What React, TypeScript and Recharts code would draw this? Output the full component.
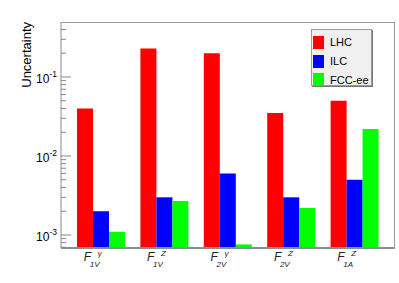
import { BarChart, Bar, XAxis, YAxis } from "recharts";

// categories: F with superscript and subscript
const catSup = ["γ", "Z", "γ", "Z", "Z"];
const catSub = ["1V", "1V", "2V", "2V", "1A"];

const lhc = [0.04, 0.23, 0.2, 0.035, 0.05];
const ilc = [0.002, 0.003, 0.006, 0.003, 0.005];
const fcc = [0.0011, 0.0027, 0.00076, 0.0022, 0.022];

const seriesNames = ["LHC", "ILC", "FCC-ee"];
const seriesColors = ["#ff0000", "#0000ff", "#00ff00"];

const majorTicks = [0.001, 0.01, 0.1];
const majorLabels = ["-3", "-2", "-1"];
const minorTicks = [
    0.0007, 0.0008, 0.0009,
    0.002, 0.003, 0.004, 0.005, 0.006, 0.007, 0.008, 0.009,
    0.02, 0.03, 0.04, 0.05, 0.06, 0.07, 0.08, 0.09,
    0.2, 0.3, 0.4,
];

const data = catSup.map((s, i) => ({
    name: "F" + s + catSub[i],
    LHC: lhc[i],
    ILC: ilc[i],
    FCC: fcc[i],
}));

const FONT = "'Liberation Sans', Arial, sans-serif";

function YTick(props: any) {
    const { x, y, payload } = props;
    const k = majorTicks.indexOf(payload.value);
    if (k < 0) {
        return <line x1={x} x2={x + 5} y1={y} y2={y} stroke="#888" strokeWidth={1} />;
    }
    return (
        <g>
            <line x1={x} x2={x + 10} y1={y} y2={y} stroke="#888" strokeWidth={1} />
            <text x={x - 4} y={y + 6} textAnchor="end" fontFamily={FONT} fontSize={12} fill="#000">
                <tspan>10</tspan>
                <tspan dy={-6} fontSize={8.5}>{majorLabels[k]}</tspan>
            </text>
        </g>
    );
}

function XTick(props: any) {
    const { x, y, payload } = props;
    const i = payload.index;
    const cx = x - 8;
    return (
        <g fontFamily={FONT} fill="#222" fontStyle="italic">
            <text x={cx - 9} y={y + 11} fontSize={12}>F</text>
            <text x={cx + 5} y={y + 6} fontSize={8}>{catSup[i]}</text>
            <text x={cx - 3} y={y + 17} fontSize={8}>{catSub[i]}</text>
        </g>
    );
}

function LegendBox() {
    return (
        <div
            style={{
                position: "absolute",
                left: 311,
                top: 29,
                width: 61,
                height: 57,
                background: "#f0f0f0",
                border: "1px solid #999",
                boxShadow: "1px 1px 0 #777",
                fontFamily: FONT,
                fontSize: 11,
                color: "#000",
                boxSizing: "border-box",
                paddingTop: 3,
            }}
        >
            {seriesNames.map((name, i) => (
                <div key={name} style={{ display: "flex", alignItems: "center", height: 18.7, paddingLeft: 1 }}>
                    <span style={{ width: 11, height: 13, background: seriesColors[i], display: "inline-block", marginRight: 6 }} />
                    <span>{name}</span>
                </div>
            ))}
        </div>
    );
}

export default function App() {
    return (
        <div style={{ position: "absolute", left: 0, top: 0, width: 399, height: 283, background: "#fff" }}>
            <BarChart
                width={399}
                height={283}
                data={data}
                margin={{ top: 22, right: 5, bottom: 0, left: 0 }}
                barGap={0}
                barSize={16}
            >
                <XAxis
                    dataKey="name"
                    height={35}
                    padding={{ left: 8, right: 8 }}
                    axisLine={{ stroke: "#7f968a", strokeWidth: 2 }}
                    tickLine={false}
                    tickSize={0}
                    tick={<XTick />}
                    interval={0}
                />
                <YAxis
                    type="number"
                    scale="log"
                    domain={[0.000685, 0.497]}
                    allowDataOverflow
                    width={61}
                    ticks={[...minorTicks, ...majorTicks]}
                    interval={0}
                    tickSize={0}
                    tickMargin={0}
                    tickLine={false}
                    axisLine={{ stroke: "#888" }}
                    tick={<YTick />}
                    label={{
                        value: "Uncertainty",
                        content: () => (
                            <text
                                x={31}
                                y={22}
                                transform="rotate(-90 31 22)"
                                textAnchor="end"
                                fontFamily={FONT}
                                fontSize={13}
                                fill="#000"
                            >
                                Uncertainty
                            </text>
                        ),
                    }}
                />
                <Bar dataKey="LHC" fill={seriesColors[0]} isAnimationActive={false} />
                <Bar dataKey="ILC" fill={seriesColors[1]} isAnimationActive={false} />
                <Bar dataKey="FCC" fill={seriesColors[2]} isAnimationActive={false} />
            </BarChart>
            <div
                style={{
                    position: "absolute",
                    left: 61,
                    top: 22,
                    width: 333,
                    height: 226,
                    borderTop: "1px solid #999",
                    borderRight: "1px solid #999",
                    pointerEvents: "none",
                }}
            />
            <LegendBox />
        </div>
    );
}
